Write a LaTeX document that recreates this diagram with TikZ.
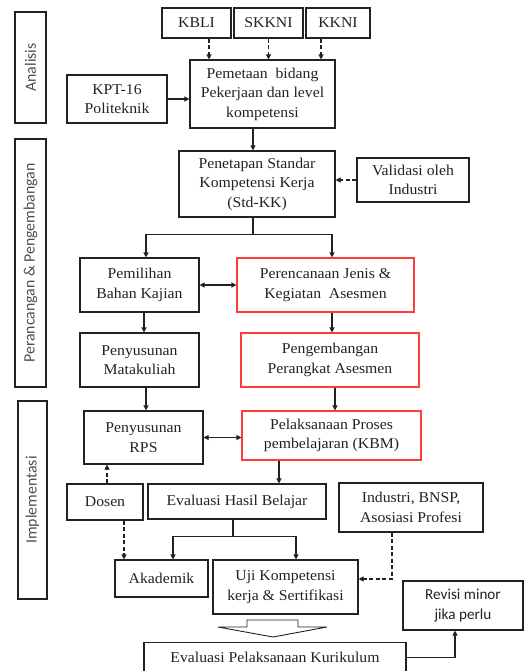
\documentclass[tikz,border=0pt]{standalone}
\usepackage{fontspec}
\setmainfont{Liberation Serif}[FakeStretch=1.05]
\newfontfamily\sidefont{Carlito}
\usetikzlibrary{arrows.meta}
\definecolor{boxred}{HTML}{FF3B3B}
\definecolor{ink}{HTML}{222222}
\tikzset{
  box/.style={draw=ink, line width=1.1pt, inner sep=0pt, align=center, text=ink,
    font=\fontsize{15}{19.5}\selectfont},
  redbox/.style={box, draw=boxred},
  sidebox/.style={draw=ink, line width=1.1pt, inner sep=0pt},
  sidelabel/.style={rotate=90, text=ink!80, font=\sidefont\fontsize{15.8}{18}\selectfont},
  line/.style={draw=ink, line width=1.1pt},
  arr/.style={line, -{Triangle[length=5pt,width=5pt]}},
  darr/.style={line, {Triangle[length=5pt,width=5pt]}-{Triangle[length=5pt,width=5pt]}},
  dasharr/.style={arr, dash pattern=on 4pt off 2.5pt},
}
\begin{document}
\begin{tikzpicture}[x=1pt,y=-1pt]
\useasboundingbox (0,0) rectangle (524,671);
% side boxes
\node[sidebox, minimum width=31, minimum height=111] (ana) at (30.5,67.5) {};
\node[sidelabel] (analab) at (ana.center) {Analisis};
\node[sidebox, minimum width=31, minimum height=248] (per) at (30.5,263) {};
\node[sidelabel] (perlab) at (per.center) {Perancangan \& Pengembangan};
\node[sidebox, minimum width=29, minimum height=198] (imp) at (32.5,500) {};
\node[sidelabel] (implab) at (imp.center) {Implementasi};
% top inputs
\node[box, minimum width=69, minimum height=30] (kbli) at (196.5,23) {KBLI};
\node[box, minimum width=69, minimum height=30] (skkni) at (268.5,23) {SKKNI};
\node[box, minimum width=64, minimum height=30] (kkni) at (338,23) {KKNI};
\node[box, minimum width=145, minimum height=68] (pem) at (262.5,94) {Pemetaan\ \ bidang\\Pekerjaan dan level\\kompetensi};
\node[box, minimum width=100, minimum height=48] (kpt) at (117,99) {KPT-16\\Politeknik};
\node[box, minimum width=156, minimum height=66] (pen) at (257,184) {Penetapan Standar\\Kompetensi Kerja\\(Std-KK)};
\node[box, minimum width=112, minimum height=44] (val) at (413,180) {Validasi oleh\\Industri};
\node[box, minimum width=119, minimum height=54] (pil) at (139.5,285) {Pemilihan\\Bahan Kajian};
\node[redbox, minimum width=177, minimum height=54] (prc) at (325.5,285) {Perencanaan Jenis \&\\Kegiatan\ \ Asesmen};
\node[box, minimum width=119, minimum height=54] (mk) at (139.5,360) {Penyusunan\\Matakuliah};
\node[redbox, minimum width=178, minimum height=54] (pgb) at (330,360) {Pengembangan\\Perangkat Asesmen};
\node[box, minimum width=119, minimum height=53] (rps) at (143.5,437.5) {Penyusunan\\RPS};
\node[redbox, minimum width=179, minimum height=49] (pel) at (331.5,435.5) {Pelaksanaan Proses\\pembelajaran (KBM)};
\node[box, minimum width=76, minimum height=36] (dos) at (105,502) {Dosen};
\node[box, minimum width=178, minimum height=35] (ehb) at (237,501.5) {Evaluasi Hasil Belajar};
\node[box, minimum width=144, minimum height=49] (ind) at (411,507.5) {Industri, BNSP,\\Asosiasi Profesi};
\node[box, minimum width=93, minimum height=37] (aka) at (161.5,578.5) {Akademik};
\node[box, minimum width=145, minimum height=54] (uji) at (285.5,587) {Uji Kompetensi\\kerja \& Sertifikasi};
\node[box, minimum width=120, minimum height=49, font=\sidefont\fontsize{15.2}{20}\selectfont] (rev) at (463,605.5) {Revisi minor\\jika perlu};
\node[box, minimum width=262, minimum height=30, anchor=north] (epk) at (275,642) {Evaluasi Pelaksanaan Kurikulum};
% connectors
\draw[dasharr] ([xshift=12.5]kbli.south) -- ([xshift=12.5]kbli.south |- pem.north);
\draw[dasharr] (skkni.south) -- (skkni.south |- pem.north);
\draw[dasharr] ([xshift=-17]kkni.south) -- ([xshift=-17]kkni.south |- pem.north);
\draw[arr] (kpt.east) -- (kpt.east -| pem.west);
\draw[arr] ([xshift=-9.5]pem.south) -- ([xshift=-9.5]pem.south |- pen.north);
\draw[dasharr] (val.west) -- (val.west -| pen.east);
\draw[line] ([xshift=-4]pen.south) -- ++(0,17) coordinate (j1);
\draw[arr] (j1) -| ([xshift=6.5]pil.north);
\draw[arr] (j1) -| ([xshift=6.5]prc.north);
\draw[darr] (pil.east) -- (pil.east -| prc.west);
\draw[arr] ([xshift=4.5]pil.south) -- ([xshift=4.5]mk.north);
\draw[arr] ([xshift=6.5]prc.south) -- ([xshift=6.5]prc.south |- pgb.north);
\draw[arr] ([xshift=6.5]mk.south) -- ([xshift=6.5]mk.south |- rps.north);
\draw[arr] ([xshift=5]pgb.south) -- ([xshift=5]pgb.south |- pel.north);
\draw[darr] (rps.east) -- (rps.east -| pel.west);
\draw[dasharr] ([xshift=2]dos.north) -- ([xshift=2]dos.north |- rps.south);
\draw[arr] ([xshift=-52.5]pel.south) -- ([xshift=-52.5]pel.south |- ehb.north);
\draw[dasharr] ([xshift=19]dos.south) -- ([xshift=19]dos.south |- aka.north);
\draw[line] ([xshift=-4]ehb.south) -- ++(0,17) coordinate (j2);
\draw[arr] (j2) -| ([xshift=11.5]aka.north);
\draw[arr] (j2) -| ([xshift=10.5]uji.north);
\draw[dasharr] ([xshift=-19]ind.south) |- ([yshift=8]uji.east);
\draw[arr] (epk.east) -| ([xshift=-8]rev.south);
% block arrow from uji to epk
\draw[draw=ink, line width=0.9pt, fill=white] (247,620) -- (298,620) -- (298,627) -- (327,627) -- (273,637) -- (218,627) -- (247,627) -- cycle;
\end{tikzpicture}
\end{document}
